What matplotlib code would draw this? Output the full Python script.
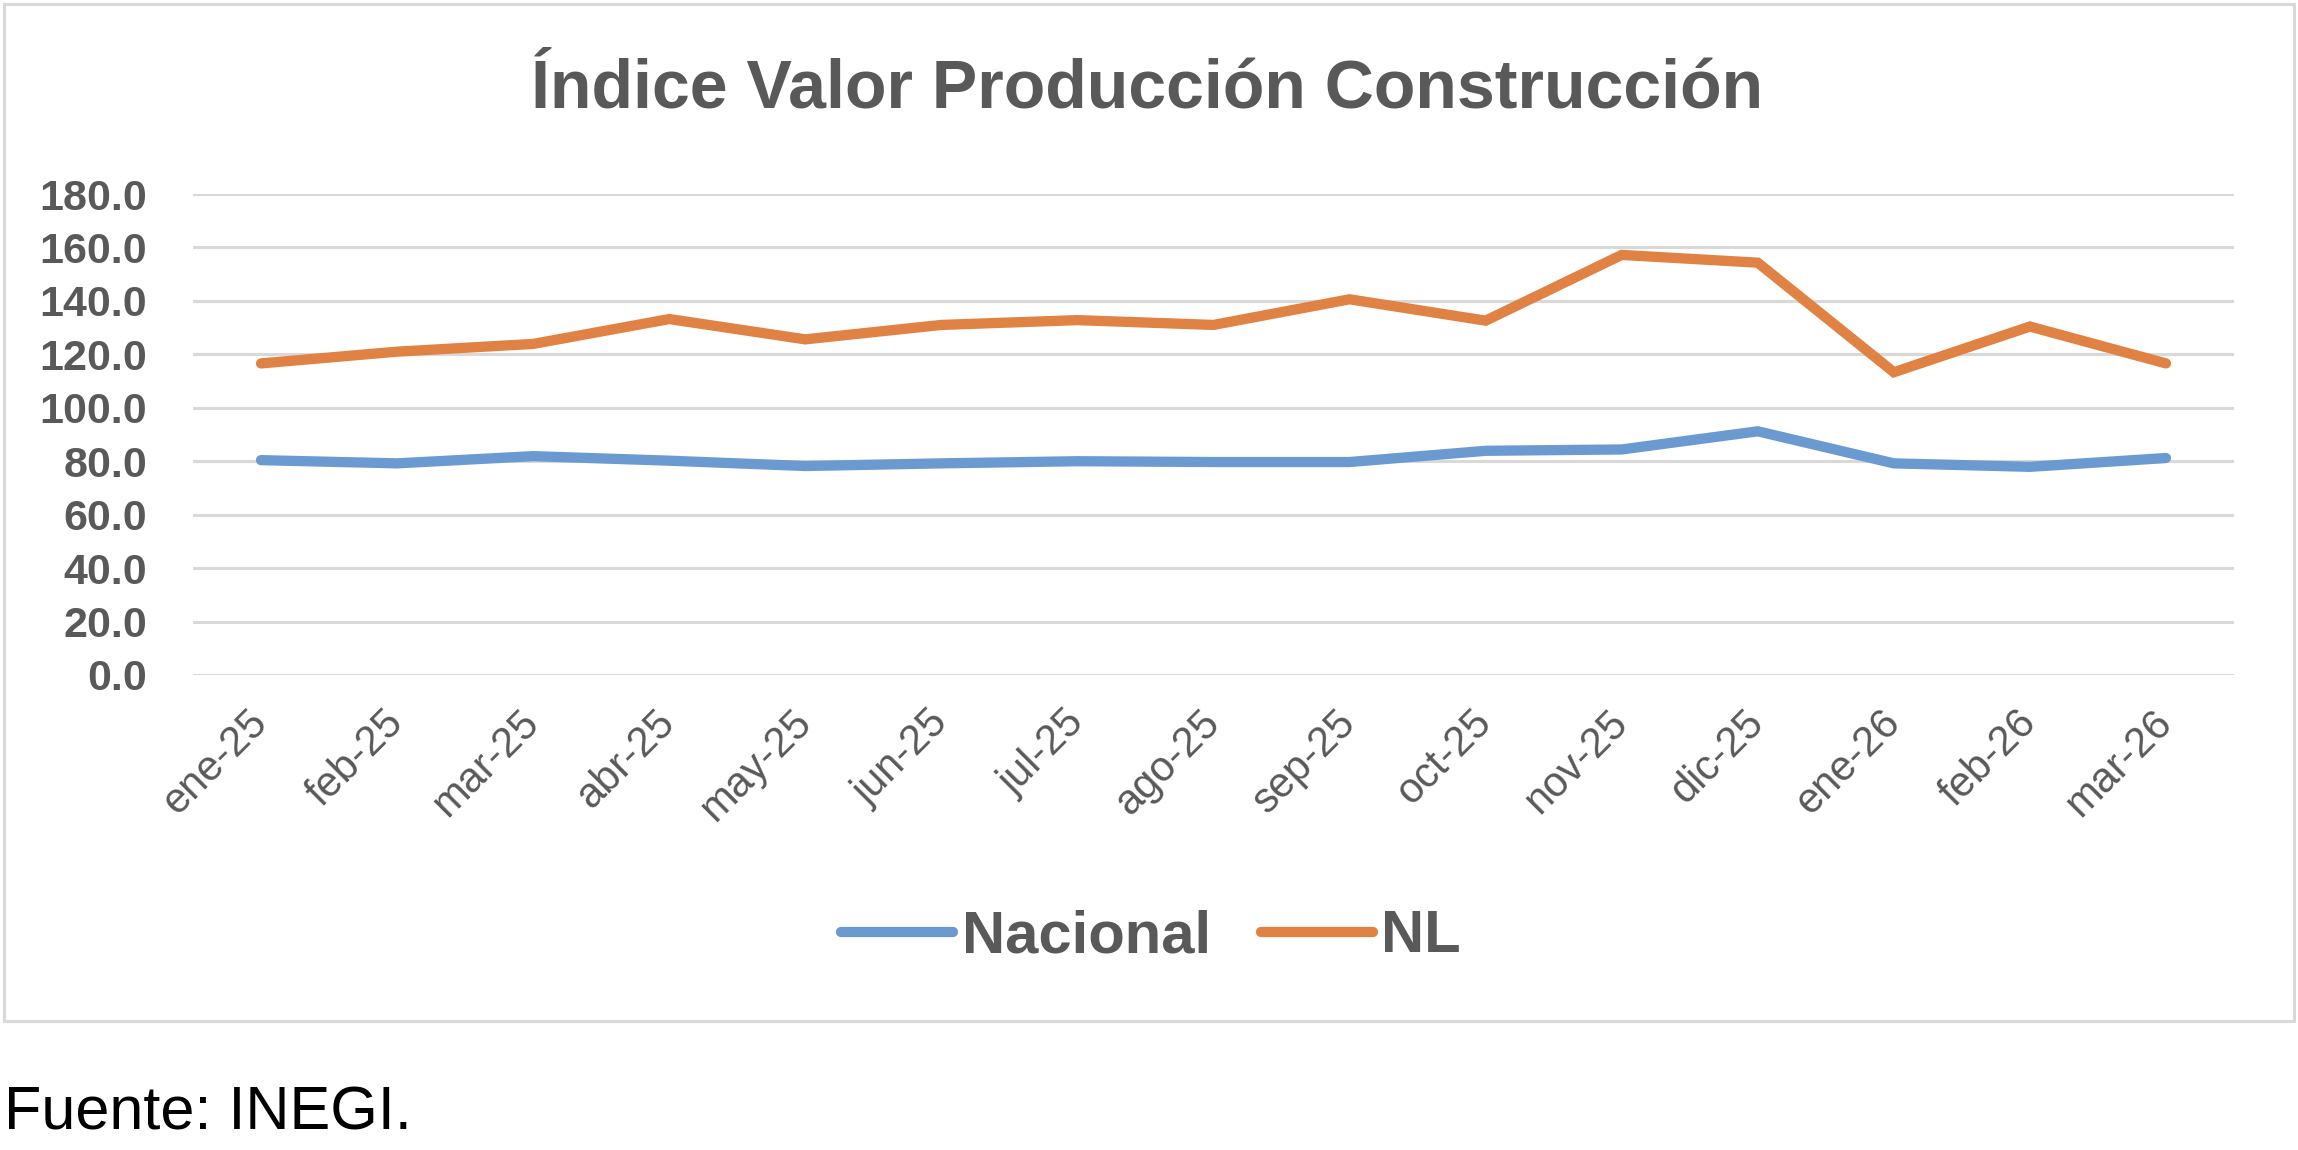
import matplotlib
matplotlib.use("Agg")
import matplotlib.pyplot as plt
from matplotlib.patches import Rectangle

# Data
meses = ["ene-25", "feb-25", "mar-25", "abr-25", "may-25", "jun-25", "jul-25", "ago-25",
         "sep-25", "oct-25", "nov-25", "dic-25", "ene-26", "feb-26", "mar-26"]
nacional = [80.4, 79.2, 81.9, 80.2, 78.2, 79.2, 80.0, 79.7,
            79.7, 83.9, 84.4, 91.2, 79.2, 77.9, 81.2]
nl = [116.6, 121.0, 123.9, 133.2, 125.6, 131.0, 132.8, 131.0,
      140.6, 132.6, 157.2, 154.3, 113.3, 130.4, 116.6]
y_ticks = [0, 20, 40, 60, 80, 100, 120, 140, 160, 180]

colors = {
    "nacional": "#6A9AD0",
    "nl": "#DF8244",
    "text": "#595959",
    "grid": "#D9D9D9",
}

W, H = 2298, 1150
fig = plt.figure(figsize=(W / 100, H / 100), dpi=100)
fig.patch.set_facecolor("white")

# chart frame
fig.patches.append(Rectangle((4 / W, 1 - 1021 / H), 2290 / W, 1017 / H,
                             transform=fig.transFigure, fill=False,
                             edgecolor=colors["grid"], linewidth=2.2))

ax = fig.add_axes([193 / W, 1 - 675 / H, (2234 - 193) / W, (675 - 194) / H])
x = list(range(len(meses)))
ax.plot(x, nacional, color=colors["nacional"], linewidth=7.4,
        solid_capstyle="round", solid_joinstyle="miter", label="Nacional", zorder=3)
ax.plot(x, nl, color=colors["nl"], linewidth=7.4,
        solid_capstyle="round", solid_joinstyle="miter", label="NL", zorder=3)

ax.set_xlim(-0.5, len(meses) - 0.5)
ax.set_ylim(0, 180)
ax.set_yticks(y_ticks)
ax.set_yticklabels([f"{v:.1f}" for v in y_ticks], fontfamily="Liberation Sans",
                   fontweight="bold", fontsize=31, color=colors["text"])
ax.set_xticks(x)
ax.set_xticklabels(meses, fontfamily="Liberation Sans", fontsize=30,
                   color=colors["text"], rotation=45, ha="right",
                   va="center", rotation_mode="anchor")
ax.tick_params(axis="y", length=0, pad=33)
ax.tick_params(axis="x", length=0, pad=30)
ax.grid(axis="y", color=colors["grid"], linewidth=2.2)
ax.set_axisbelow(True)
for s in ax.spines.values():
    s.set_visible(False)

fig.text(1147 / W, 1 - 108 / H, "Índice Valor Producción Construcción",
         fontfamily="Liberation Sans", fontweight="bold", fontsize=49,
         color=colors["text"], ha="center", va="baseline")

leg = ax.legend(loc="center", bbox_to_anchor=(1151 / W, 1 - 937 / H),
                bbox_transform=fig.transFigure, ncol=2, frameon=False,
                handlelength=1.87, handletextpad=0.15, columnspacing=0.84,
                prop={"family": "Liberation Sans", "weight": "bold", "size": 43})
for t in leg.get_texts():
    t.set_color(colors["text"])

fig.text(4 / W, 1 - 1130 / H, "Fuente: INEGI.", fontfamily="Liberation Sans",
         fontsize=44, color="black", ha="left", va="baseline")

fig.savefig("out.png", dpi=100, facecolor="white")
